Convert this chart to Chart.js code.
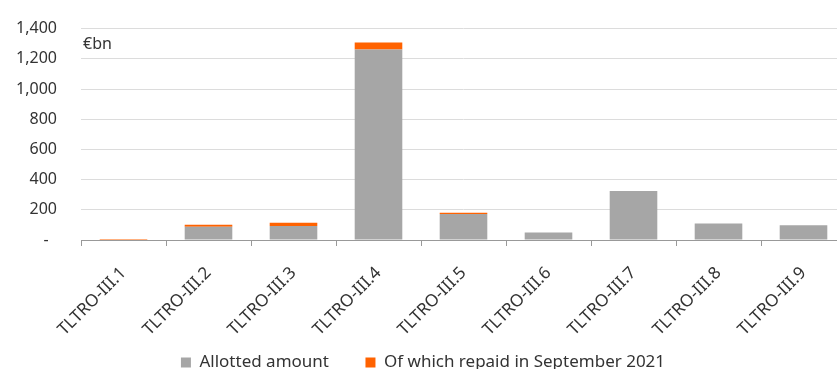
<!DOCTYPE html>
<html>
<head>
<meta charset="utf-8">
<script src="https://cdn.jsdelivr.net/npm/chart.js@4/dist/chart.umd.min.js"></script>
<style>
  html, body { margin: 0; padding: 0; background: #fff; overflow: hidden; }
  #wrap { position: relative; width: 837px; height: 369px; overflow: hidden; }
  #box { position: absolute; left: 0; top: -5px; width: 846px; height: 386px; }
</style>
</head>
<body>
<div id="wrap"><div id="box"><canvas id="c"></canvas></div></div>
<script>
const categories = ['TLTRO-III.1','TLTRO-III.2','TLTRO-III.3','TLTRO-III.4','TLTRO-III.5','TLTRO-III.6','TLTRO-III.7','TLTRO-III.8','TLTRO-III.9'];
const allottedRemaining = [0, 88, 93, 1261, 172, 50, 325, 110, 97];
const repaidSep2021 = [6, 13, 22, 47, 8, 0, 0, 0, 0];
const seriesNames = ['Allotted amount', 'Of which repaid in September 2021'];
const unitLabel = '€bn';

const FONT = "'Noto Sans', sans-serif";

const unitPlugin = {
  id: 'unit',
  afterDraw(chart) {
    const {ctx, chartArea} = chart;
    ctx.save();
    ctx.font = '16px ' + FONT;
    ctx.fillStyle = '#333';
    ctx.textAlign = 'left';
    ctx.textBaseline = 'middle';
    ctx.fillText(unitLabel, chartArea.left + 2, chartArea.top + 16);
    ctx.restore();
  }
};

new Chart(document.getElementById('c'), {
  type: 'bar',
  data: {
    labels: categories,
    datasets: [
      { label: seriesNames[0], data: allottedRemaining, backgroundColor: '#a6a6a6', barPercentage: 0.56, categoryPercentage: 1 },
      { label: seriesNames[1], data: repaidSep2021, backgroundColor: '#ff6200', barPercentage: 0.56, categoryPercentage: 1 }
    ]
  },
  options: {
    responsive: true,
    maintainAspectRatio: false,
    animation: false,
    layout: { padding: { top: 17, right: 0, bottom: 0, left: 0 } },
    plugins: {
      legend: {
        position: 'bottom',
        labels: {
          font: { family: FONT, size: 17 },
          color: '#333',
          boxWidth: 10,
          boxHeight: 10,
          padding: 10,
          generateLabels(chart) {
            const items = Chart.defaults.plugins.legend.labels.generateLabels(chart);
            items[0].text = items[0].text + '      ';
            return items;
          }
        }
      },
      tooltip: { enabled: false }
    },
    scales: {
      x: {
        stacked: true,
        grid: { display: true, offset: true, drawOnChartArea: false, drawTicks: true, tickLength: 6, color: '#999' },
        border: { display: true, color: '#999' },
        ticks: {
          font: { family: FONT, size: 17 },
          color: '#333',
          maxRotation: 45,
          minRotation: 45,
          padding: 17,
          autoSkip: false
        },
        afterFit(scale) { scale.height = 104; }
      },
      y: {
        stacked: true,
        min: 0,
        max: 1400,
        ticks: {
          stepSize: 200,
          font: { family: FONT, size: 16 },
          color: '#333',
          padding: 24,
          callback: (v) => v === 0 ? '-  ' : v.toLocaleString('en-US')
        },
        grid: { color: '#dcdcdc', drawTicks: false },
        border: { display: false },
        afterFit(scale) { scale.width = 81; }
      }
    }
  },
  plugins: [unitPlugin]
});
</script>
</body>
</html>
